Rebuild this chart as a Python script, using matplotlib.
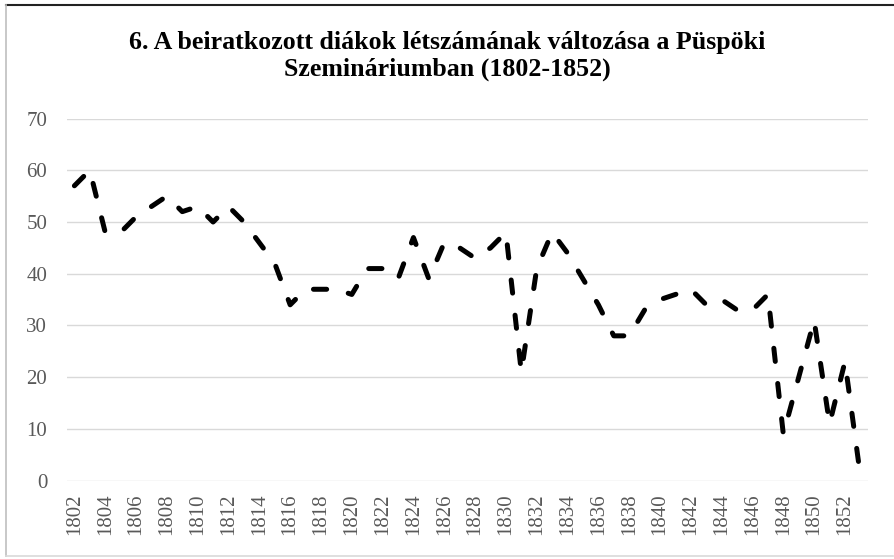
import matplotlib
matplotlib.use("Agg")
import matplotlib.pyplot as plt
from matplotlib.lines import Line2D

# enrolled students per year, 1802-1853
years = list(range(1802, 1854))
students = [57, 60, 48, 48, 51, 53, 55, 52, 53, 50,
            53, 50, 46, 42, 34, 37, 37, 37, 36, 41,
            41, 39, 47, 39, 46, 45, 43, 45, 48, 21,
            41, 48, 44, 39, 34, 28, 28, 33, 35, 36,
            37, 34, 35, 33, 33, 36, 9, 20, 31, 11,
            23, 1]
tick_labels = [str(y) if (y - 1802) % 2 == 0 else "" for y in years]
title = "6. A beiratkozott diákok létszámának változása a Püspöki\nSzemináriumban (1802-1852)"

plt.rcParams["font.family"] = ["Liberation Serif", "DejaVu Serif"]
plt.rcParams["lines.scale_dashes"] = False

fig = plt.figure(figsize=(8.94, 5.59), dpi=100)
ax = fig.add_axes([0.0746, 0.140, 0.8964, 0.648])

x = list(range(len(years)))
ax.plot(x, students, color="black", linewidth=3.6, solid_capstyle="round",
        dash_capstyle="round", dashes=(9.5, 16), zorder=3)

ax.set_xlim(-0.5, len(years) - 0.5)
ax.set_ylim(0, 70)
ax.set_yticks(range(0, 71, 10))
ax.set_xticks(x)
ax.set_xticklabels(tick_labels, rotation=90)
ax.grid(axis="y", color="#d9d9d9", linewidth=1.0)
ax.set_axisbelow(True)
for s in ax.spines.values():
    s.set_visible(False)
ax.tick_params(axis="both", length=0, labelsize=15, labelcolor="#595959")
ax.tick_params(axis="x", pad=9)
ax.tick_params(axis="y", pad=14)

fig.text(0.5, 0.899, title, ha="center", va="center", fontsize=18.6,
         fontweight="bold", color="black", linespacing=1.2)

# chart area border
fig.add_artist(Line2D([5.5 / 894, 893 / 894], [1 - 4.5 / 559] * 2,
                      transform=fig.transFigure, color="#222222", linewidth=1.5))
fig.add_artist(Line2D([5.5 / 894] * 2, [1 - 4.5 / 559, 1 - 556 / 559],
                      transform=fig.transFigure, color="#bfbfbf", linewidth=1.2))
fig.add_artist(Line2D([5.5 / 894, 893 / 894], [1 - 556 / 559] * 2,
                      transform=fig.transFigure, color="#d9d9d9", linewidth=1.2))

fig.savefig("out.png", dpi=100)
